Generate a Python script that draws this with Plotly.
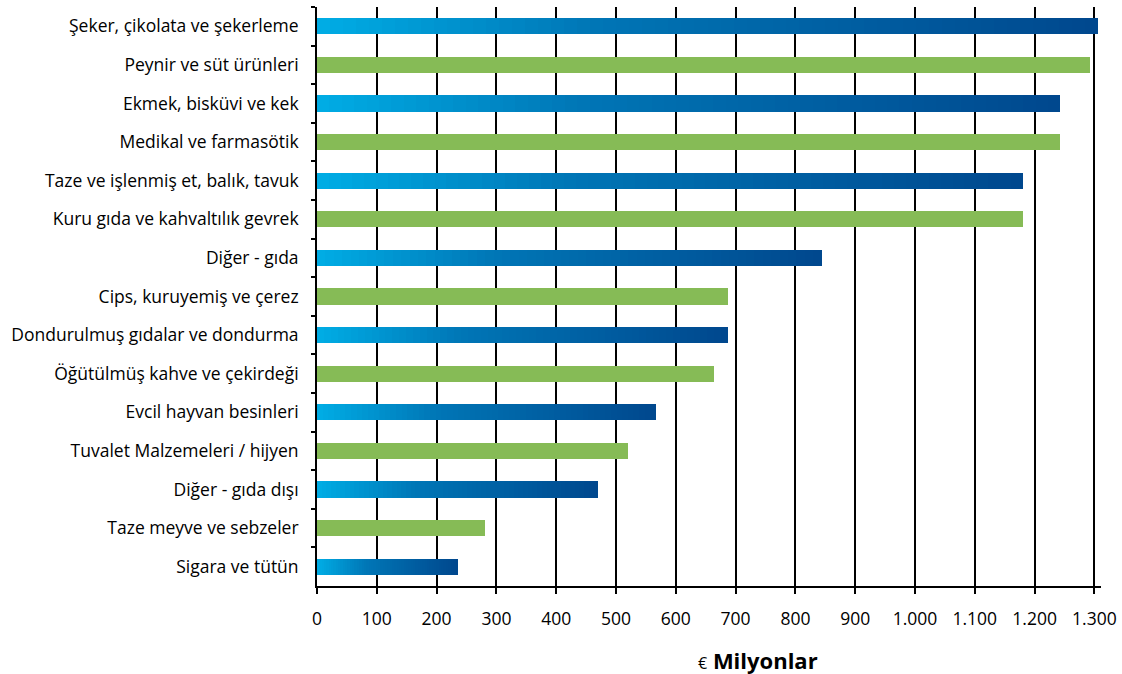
import plotly.graph_objects as go

categories = [
    "Şeker, çikolata ve şekerleme",
    "Peynir ve süt ürünleri",
    "Ekmek, bisküvi ve kek",
    "Medikal ve farmasötik",
    "Taze ve işlenmiş et, balık, tavuk",
    "Kuru gıda ve kahvaltılık gevrek",
    "Diğer - gıda",
    "Cips, kuruyemiş ve çerez",
    "Dondurulmuş gıdalar ve dondurma",
    "Öğütülmüş kahve ve çekirdeği",
    "Evcil hayvan besinleri",
    "Tuvalet Malzemeleri / hijyen",
    "Diğer - gıda dışı",
    "Taze meyve ve sebzeler",
    "Sigara ve tütün",
]
values = [1306, 1292, 1243, 1243, 1181, 1181, 844, 687, 687, 664, 567, 520, 470, 281, 235]
# alternating series: blue gradient (even index) and green (odd index)
blue_cats = categories[0::2]
blue_vals = values[0::2]
green_cats = categories[1::2]
green_vals = values[1::2]
tick_vals = list(range(0, 1301, 100))
tick_text = [f"{v:,}".replace(",", ".") for v in tick_vals]

FONT = "Open Sans"
GREEN = "#86bb56"
stops = [(0.0, (0, 172, 228)), (0.35, (0, 118, 182)), (1.0, (0, 72, 142))]


def grad(t):
    for (t0, c0), (t1, c1) in zip(stops[:-1], stops[1:]):
        if t <= t1:
            f = (t - t0) / (t1 - t0)
            return "rgb(%d,%d,%d)" % tuple(round(a + (b - a) * f) for a, b in zip(c0, c1))
    return "rgb(%d,%d,%d)" % stops[-1][1]


N = 60
fig = go.Figure()
for k in range(N):
    fig.add_trace(go.Bar(
        y=blue_cats, x=[v / N for v in blue_vals], orientation="h",
        marker=dict(color=grad(k / (N - 1)), line=dict(width=0)),
        showlegend=False, hoverinfo="skip",
    ))
fig.add_trace(go.Bar(
    y=green_cats, x=green_vals, orientation="h",
    marker=dict(color=GREEN, line=dict(width=0)), showlegend=False,
))

fig.update_layout(
    barmode="stack",
    bargap=0.585,
    width=1122, height=674,
    margin=dict(l=317, r=21, t=7, b=88),
    paper_bgcolor="white", plot_bgcolor="white",
    font=dict(family=FONT, size=17.5, color="black"),
    xaxis=dict(
        range=[0, 1311], tickvals=tick_vals, ticktext=tick_text,
        showgrid=True, gridcolor="black", gridwidth=1.8,
        showline=True, linecolor="black", linewidth=1.8,
        ticks="outside", ticklen=6, tickwidth=1.8, tickcolor="black",
        zeroline=False, tickfont=dict(size=17.5), ticklabelstandoff=10,
        layer="below traces", automargin=False,
    ),
    yaxis=dict(
        categoryorder="array", categoryarray=categories, autorange="reversed",
        showline=True, linecolor="black", linewidth=1.8,
        ticks="outside", ticklen=4, tickwidth=1.8, tickcolor="black",
        tickson="boundaries", showgrid=False, tickfont=dict(size=17.5),
        ticklabelstandoff=13, automargin=False,
    ),
    annotations=[dict(
        text="<span style='font-size:16px'>€</span> <b>Milyonlar</b>",
        xref="paper", yref="paper", x=(758 - 317) / 784, y=-(660 - 586) / 579,
        xanchor="center", yanchor="middle", showarrow=False,
        font=dict(family=FONT, size=22, color="black"),
    )],
)

fig.write_html(
    "out.html",
    config={"displayModeBar": False},
    post_script="document.body.style.margin='0';",
)
